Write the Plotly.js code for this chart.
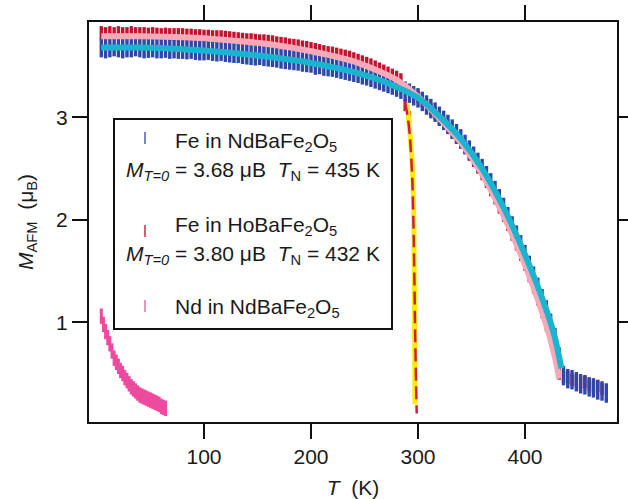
<!DOCTYPE html>
<html>
<head>
<meta charset="utf-8">
<script src="https://cdn.plot.ly/plotly-3.0.1.min.js"></script>
<style>html,body{margin:0;padding:0;background:#fff;}#chart{width:628px;height:499px;}</style>
</head>
<body>
<div id="chart"></div>
<script>
// ---- Data ----
// Fe in NdBaFe2O5 (blue points with error bars)
const ndFeT = [4,8,12,16,20,24,28,32,36,40,44,48,52,56,60,64,68,72,76,80,84,88,92,96,100,104,108,112,116,120,124,128,132,136,140,144,148,152,156,160,164,168,172,176,180,184,188,192,196,200,204,208,212,216,220,224,228,232,236,240,244,248,252,256,260,264,268,272,276,280,284,288,292,296,300,304,308,312,316,320,324,328,332,336,340,344,348,352,356,360,364,368,372,376,380,384,388,392,396,400,404,408,412,416,420,424,428,432,436,440,444,448,452,456,460,464,468,472,476];
const ndFeM = [3.68,3.67,3.68,3.69,3.68,3.67,3.68,3.68,3.69,3.68,3.67,3.675,3.68,3.67,3.67,3.675,3.665,3.67,3.665,3.665,3.66,3.665,3.655,3.65,3.65,3.655,3.645,3.64,3.645,3.635,3.63,3.625,3.625,3.615,3.61,3.605,3.60,3.605,3.595,3.59,3.585,3.58,3.57,3.565,3.56,3.555,3.55,3.54,3.535,3.53,3.51,3.515,3.50,3.495,3.49,3.48,3.47,3.46,3.45,3.44,3.43,3.415,3.405,3.39,3.375,3.36,3.345,3.33,3.315,3.295,3.275,3.255,3.235,3.21,3.19,3.155,3.12,3.085,3.05,3.01,2.97,2.93,2.885,2.84,2.79,2.735,2.68,2.62,2.56,2.50,2.43,2.36,2.285,2.205,2.12,2.03,1.94,1.85,1.755,1.66,1.555,1.45,1.34,1.23,1.12,0.99,0.85,0.66,0.48,0.45,0.44,0.42,0.40,0.39,0.37,0.36,0.34,0.33,0.31];

// Fe in HoBaFe2O5 (red points with error bars)
const hoFeT = [4,8,12,16,20,24,28,32,36,40,44,48,52,56,60,64,68,72,76,80,84,88,92,96,100,104,108,112,116,120,124,128,132,136,140,144,148,152,156,160,164,168,172,176,180,184,188,192,196,200,204,208,212,216,220,224,228,232,236,240,244,248,252,256,260,264,268,272,276,280,284,288,292,300,304,308,312,316,320,324,328,332,336,340,344,348,352,356,360,364,368,372,376,380,384,388,392,396,400,404,408,412,416,420,424,428,432,436,440,444,448,452,456,460,464,468,472];
const hoFeM = [3.83,3.82,3.83,3.82,3.83,3.82,3.82,3.83,3.82,3.82,3.82,3.815,3.82,3.815,3.81,3.815,3.81,3.81,3.81,3.81,3.805,3.805,3.80,3.80,3.795,3.795,3.79,3.79,3.79,3.785,3.78,3.775,3.77,3.765,3.76,3.76,3.755,3.75,3.75,3.745,3.74,3.73,3.725,3.72,3.71,3.705,3.70,3.69,3.685,3.675,3.665,3.655,3.645,3.635,3.63,3.62,3.61,3.60,3.59,3.575,3.56,3.545,3.53,3.515,3.495,3.475,3.455,3.435,3.415,3.395,3.37,3.12,3.00,3.20,3.16,3.12,3.08,3.035,2.99,2.945,2.90,2.85,2.80,2.755,2.70,2.635,2.575,2.51,2.445,2.37,2.29,2.21,2.12,2.04,1.95,1.855,1.76,1.66,1.56,1.45,1.34,1.225,1.10,0.97,0.83,0.66,0.50,0.47,0.46,0.44,0.43,0.41,0.42,0.39,0.37,0.38,0.35];

// Nd in NdBaFe2O5 (magenta points with error bars)
const ndT = [4,6,8,10,12,14,16,18,20,22,24,26,28,30,32,34,36,38,40,42,44,46,48,50,52,54,56,58,60,62,64];
const ndM = [1.06,0.98,0.91,0.85,0.79,0.72,0.65,0.61,0.57,0.53,0.50,0.46,0.43,0.40,0.37,0.35,0.33,0.31,0.29,0.28,0.27,0.26,0.25,0.24,0.23,0.22,0.21,0.20,0.18,0.17,0.16];

// Fits
const fitNdT = [4,40,80,120,160,200,240,270,300,320,340,360,380,400,420,428,434];
const fitNdM = [3.68,3.68,3.665,3.635,3.59,3.53,3.44,3.34,3.19,3.01,2.79,2.50,2.12,1.66,1.12,0.85,0.55];
const fitHoT = [4,40,80,120,160,200,240,280,300,320,340,360,380,400,420,428,432];
const fitHoM = [3.79,3.79,3.78,3.755,3.715,3.645,3.545,3.365,3.20,2.99,2.755,2.445,2.04,1.56,0.97,0.66,0.45];

// Transition lines near 300 K
const yellowT = [289.7,292.0,294.0,295.3,296.2,296.8,297.2];
const yellowM = [3.14,2.90,2.65,2.40,1.90,1.00,0.20];
const dashT = [287.9,290.5,292.5,294.7,296.0,297.2,298.2,298.8];
const dashM = [3.15,3.00,2.81,2.39,1.83,1.00,0.40,0.11];

// Axis ticks
const xTicks = [100,200,300,400];
const yTicks = [1,2,3];

const FONT = 'Liberation Sans, Arial, sans-serif';

function errTrace(x, y, err, color, thick) {
  return {
    x: x, y: y, type: 'scatter', mode: 'markers',
    marker: {size: 2, color: color},
    error_y: {type: 'constant', symmetric: true, value: err, width: 0, thickness: thick, color: color, visible: true},
    hoverinfo: 'x+y', showlegend: false
  };
}

const traces = [
  errTrace(hoFeT, hoFeM, 0.06, '#c4132f', 3.4),
  errTrace(ndFeT, ndFeM, 0.095, '#2e47a8', 3.4),
  {x: fitHoT, y: fitHoM, type: 'scatter', mode: 'lines', line: {color: '#f6a9b8', width: 6, shape: 'spline', smoothing: 0.8}, showlegend: false},
  {x: fitNdT, y: fitNdM, type: 'scatter', mode: 'lines', line: {color: '#1bb4cf', width: 6, shape: 'spline', smoothing: 0.8}, showlegend: false},
  {x: yellowT, y: yellowM, type: 'scatter', mode: 'lines', line: {color: '#ffec00', width: 5, shape: 'spline', smoothing: 0.6}, showlegend: false},
  {x: dashT, y: dashM, type: 'scatter', mode: 'lines', line: {color: '#cc1f3c', width: 2.5, dash: '13px,6px', shape: 'spline', smoothing: 0.6}, showlegend: false},
  errTrace(ndT, ndM, 0.075, '#ec4b9e', 3)
];

const L = 89, R = 617, T = 22, B = 422, W = R - L, H = B - T;
const px = v => (v - L) / W;
const py = v => (B - v) / H;

const annFont = {family: FONT, size: 21, color: '#1a1a1a'};
const annotations = [
  {text: 'Fe in NdBaFe<sub>2</sub>O<sub>5</sub>', x: px(173), y: py(142), xanchor: 'left', yanchor: 'middle'},
  {text: '<i>M</i><sub><i>T=0</i></sub> = 3.68 μB  <i>T</i><sub>N</sub> = 435 K', x: px(253), y: py(171), xanchor: 'center', yanchor: 'middle'},
  {text: 'Fe in HoBaFe<sub>2</sub>O<sub>5</sub>', x: px(173), y: py(226), xanchor: 'left', yanchor: 'middle'},
  {text: '<i>M</i><sub><i>T=0</i></sub> = 3.80 μB  <i>T</i><sub>N</sub> = 432 K', x: px(253), y: py(255), xanchor: 'center', yanchor: 'middle'},
  {text: 'Nd in NdBaFe<sub>2</sub>O<sub>5</sub>', x: px(173), y: py(308), xanchor: 'left', yanchor: 'middle'}
].map(a => Object.assign({xref: 'paper', yref: 'paper', showarrow: false, font: annFont}, a));

const shapes = [
  {type: 'rect', xref: 'paper', yref: 'paper', x0: px(114), x1: px(392), y0: py(329), y1: py(119), line: {color: '#111', width: 2}, fillcolor: 'rgba(255,255,255,0)', layer: 'above'},
  {type: 'line', xref: 'paper', yref: 'paper', x0: px(145), x1: px(145), y0: py(144), y1: py(132), line: {color: '#4a5cc0', width: 1.5}},
  {type: 'line', xref: 'paper', yref: 'paper', x0: px(145), x1: px(145), y0: py(237), y1: py(225), line: {color: '#d42040', width: 1.5}},
  {type: 'line', xref: 'paper', yref: 'paper', x0: px(145), x1: px(145), y0: py(312), y1: py(300), line: {color: '#f06aa8', width: 1.5}}
];

const axisCommon = {
  showline: true, linecolor: '#111', linewidth: 2, mirror: 'ticks',
  ticks: 'outside', ticklen: 15, tickwidth: 2, tickcolor: '#111',
  showgrid: false, zeroline: false,
  tickfont: {family: FONT, size: 21, color: '#1a1a1a'}
};

const layout = {
  width: 628, height: 499,
  margin: {l: L, r: 628 - R, t: T, b: 499 - B, pad: 0},
  paper_bgcolor: '#fff', plot_bgcolor: '#fff',
  showlegend: false,
  xaxis: Object.assign({}, axisCommon, {
    range: [-7.5, 486], tickvals: xTicks, ticktext: xTicks.map(String),
    title: {text: '<i>T</i>  (K)', font: {family: FONT, size: 21, color: '#1a1a1a'}, standoff: 15}
  }),
  yaxis: Object.assign({}, axisCommon, {
    range: [0.027, 3.93], tickvals: yTicks, ticktext: yTicks.map(String),
    title: {text: '<i>M</i><sub>AFM</sub>  (μ<sub>B</sub>)', font: {family: FONT, size: 21, color: '#1a1a1a'}, standoff: 17}
  }),
  annotations: annotations,
  shapes: shapes
};

Plotly.newPlot('chart', traces, layout, {staticPlot: true, displayModeBar: false});
</script>
</body>
</html>
